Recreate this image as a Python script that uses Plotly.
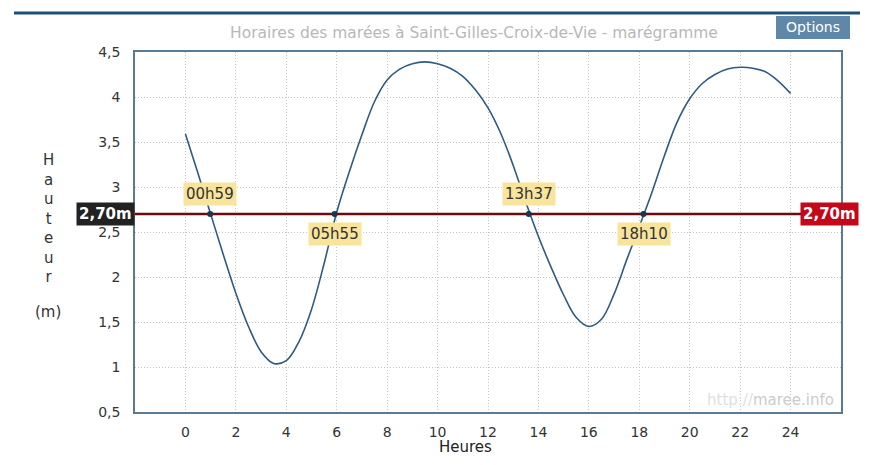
import plotly.graph_objects as go

# ---- data ----
hours = [0, 0.5, 1, 1.5, 2, 2.5, 3, 3.5, 4, 4.5, 5, 5.5, 6, 6.5, 7, 7.5, 8, 8.5,
         9, 9.5, 10, 10.5, 11, 11.5, 12, 12.5, 13, 13.5, 14, 14.5, 15, 15.5, 16,
         16.5, 17, 17.5, 18, 18.5, 19, 19.5, 20, 20.5, 21, 21.5, 22, 22.5, 23, 23.5, 24]
heights = [3.59, 3.15, 2.70, 2.25, 1.82, 1.45, 1.17, 1.04, 1.07, 1.28, 1.64, 2.15,
           2.72, 3.17, 3.58, 3.95, 4.19, 4.31, 4.37, 4.39, 4.37, 4.32, 4.23, 4.08,
           3.88, 3.60, 3.24, 2.83, 2.45, 2.11, 1.80, 1.55, 1.45, 1.53, 1.81, 2.19,
           2.56, 2.94, 3.35, 3.72, 3.98, 4.15, 4.25, 4.31, 4.33, 4.32, 4.28, 4.18, 4.04]
threshold = 2.70
threshold_label = "2,70m"
cross_hours = [0.983, 5.917, 13.617, 18.167]
cross_labels = ["00h59", "05h55", "13h37", "18h10"]
cross_above = [True, False, True, False]
x_ticks = [0, 2, 4, 6, 8, 10, 12, 14, 16, 18, 20, 22, 24]
y_ticks = [0.5, 1, 1.5, 2, 2.5, 3, 3.5, 4, 4.5]
title = "Horaires des marées à Saint-Gilles-Croix-de-Vie - marégramme"

FONT = "DejaVu Sans, Verdana, sans-serif"
OFF = 8  # body margin of the page
W, H = 870, 457
L, T = 135 - OFF, 52 - OFF
R = W - (841 - OFF)
B = H - (412 - OFF)
pw, ph = W - L - R, H - T - B

def px(x):
    return (x - OFF - L) / pw

def py(y):
    return 1 - (y - OFF - T) / ph

fig = go.Figure()

# threshold line
fig.add_trace(go.Scatter(x=[-2, 26], y=[threshold, threshold], mode="lines",
                         line=dict(color="#6b0a0f", width=2.4), hoverinfo="skip",
                         showlegend=False))
# tide curve
fig.add_trace(go.Scatter(x=hours, y=heights, mode="lines",
                         line=dict(color="#2f5b82", width=1.6, shape="spline", smoothing=1.0),
                         showlegend=False))
# crossing points
fig.add_trace(go.Scatter(x=cross_hours, y=[threshold] * len(cross_hours), mode="markers",
                         marker=dict(color="#1c3550", size=6), showlegend=False))

for h, lab, up in zip(cross_hours, cross_labels, cross_above):
    fig.add_annotation(x=h, y=threshold, text=lab, showarrow=False,
                       yshift=20 if up else -20,
                       font=dict(family=FONT, size=15, color="#333"),
                       bgcolor="#f8e49a", borderpad=2)

# threshold labels
fig.add_annotation(xref="paper", yref="y", x=0, y=threshold, xanchor="right",
                   text="<b>" + threshold_label + "</b>", showarrow=False,
                   font=dict(family=FONT, size=15, color="white"),
                   bgcolor="#222222", borderpad=2)
fig.add_annotation(xref="paper", yref="y", x=px(800), y=threshold, xanchor="left",
                   text="<b>" + threshold_label + "</b>", showarrow=False,
                   font=dict(family=FONT, size=15, color="white"),
                   bgcolor="#c4081a", borderpad=2)

# title
fig.add_annotation(xref="paper", yref="paper", x=px(474), y=py(33), text=title,
                   showarrow=False, xanchor="center", yanchor="middle",
                   font=dict(family=FONT, size=15.5, color="#b8b8b8"))
# options button
fig.add_shape(type="rect", xref="paper", yref="paper", x0=px(776), x1=px(850),
              y0=py(39), y1=py(16), fillcolor="#5f87a8", line=dict(width=0), layer="above")
fig.add_annotation(xref="paper", yref="paper", x=px(813), y=py(27), text="Options",
                   showarrow=False, xanchor="center", yanchor="middle",
                   font=dict(family=FONT, size=14, color="white"))
# top rule
fig.add_shape(type="line", xref="paper", yref="paper", x0=px(14), x1=px(860),
              y0=py(13), y1=py(13), line=dict(color="#1f4f74", width=3))

# y-axis title stacked letters
fig.add_annotation(xref="paper", yref="paper", x=px(48), y=py(218),
                   text="H<br>a<br>u<br>t<br>e<br>u<br>r", showarrow=False,
                   xanchor="center", yanchor="middle",
                   font=dict(family=FONT, size=15, color="#333"))
fig.add_annotation(xref="paper", yref="paper", x=px(48), y=py(312), text="(m)",
                   showarrow=False, xanchor="center", yanchor="middle",
                   font=dict(family=FONT, size=15, color="#333"))
# x-axis title
fig.add_annotation(xref="paper", yref="paper", x=px(465), y=py(447), text="Heures",
                   showarrow=False, xanchor="center", yanchor="middle",
                   font=dict(family=FONT, size=15, color="#222"))
# watermark
fig.add_annotation(xref="paper", yref="paper", x=px(836), y=py(400),
                   text="<span style='color:#e0e0e0'>http://</span>maree.info",
                   showarrow=False, xanchor="right", yanchor="middle",
                   font=dict(family=FONT, size=15, color="#cccccc"))

fig.update_layout(
    width=W, height=H, margin=dict(l=L, r=R, t=T, b=B),
    paper_bgcolor="white", plot_bgcolor="white",
    separators=", ",
    font=dict(family=FONT, size=14, color="#333"),
    xaxis=dict(range=[-2, 26], tickvals=x_ticks, showgrid=True, gridcolor="#c4c4c4",
               griddash="1px,2px", gridwidth=1, zeroline=False, showline=True,
               linecolor="#5a7a96", linewidth=1.5, mirror=True, ticks="",
               ticklabelstandoff=6, tickfont=dict(family=FONT, size=14, color="#333")),
    yaxis=dict(range=[0.5, 4.5], tickvals=y_ticks, showgrid=True, gridcolor="#c4c4c4",
               griddash="1px,2px", gridwidth=1, zeroline=False, showline=True,
               linecolor="#5a7a96", linewidth=1.5, mirror=True, ticks="",
               ticklabelstandoff=10, tickformat=".1~f",
               tickfont=dict(family=FONT, size=14, color="#333")),
)

fig.write_html("out.html")
